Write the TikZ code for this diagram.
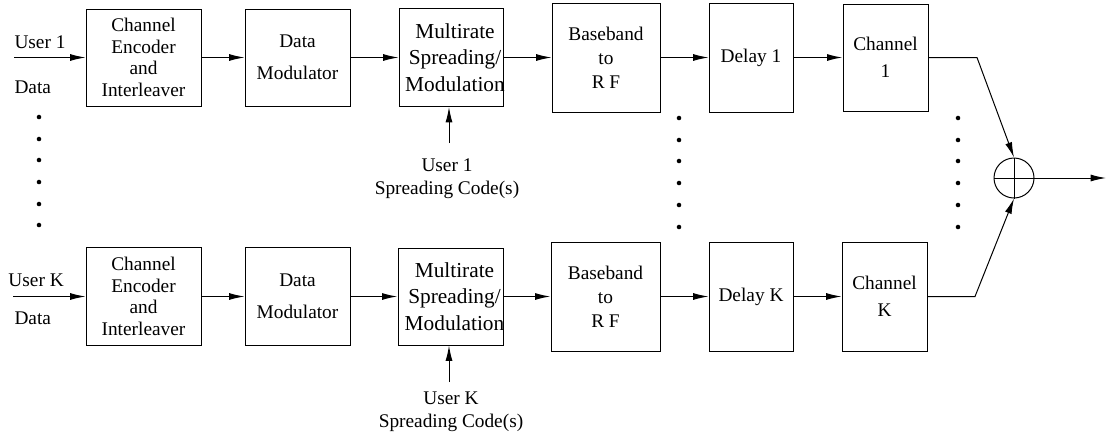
\documentclass[tikz,border=0pt]{standalone}
\usepackage{fontspec}
\setmainfont{Liberation Serif}
\usetikzlibrary{arrows.meta}
\newlength\px
\setlength\px{0.75pt}

\begin{document}
\begin{tikzpicture}[x=0.75pt,y=-0.75pt,
  line width=0.75pt,
  >={Latex[length=11.5pt,width=5.2pt]},
  lines/.style={font=\fontsize{14.5}{#1}\selectfont},
  blk/.style 2 args={draw, minimum width=#1*\px, minimum height=#2*\px,
    inner sep=0pt, align=center, lines=17},
  sprtext/.style={inner sep=0pt, align=center, font=\fontsize{16}{20}\selectfont},
  lbl/.style={inner sep=0pt, lines=17}]
\useasboundingbox (0,0) rectangle (1107,433);

% ---- user 1 chain ----
\node[blk={115}{97}, lines=16.3] (enc1) at (143.5,57.5) {Channel\\Encoder\\and\\Interleaver};
\node[blk={105}{97}, lines=24] (mod1) at (297.5,57.5) {Data\\Modulator};
\node[blk={104}{98}] (spr1) at (451,57.5) {};
\node[sprtext] (spr1t) at (455,57.5) {Multirate\\Spreading/\\Modulation};
\node[blk={108}{109}, lines=18] (bb1) at (606,57.5) {Baseband\\to\\R F};
\node[blk={84}{109}] (del1) at (751,57.5) {Delay 1};
\node[blk={85}{107}, lines=20] (ch1) at (885.5,57.5) {Channel\\1};

\node[lbl, anchor=west] (u1) at (14,42) {User 1};
\node[lbl, anchor=west] (d1) at (14,87) {Data};
\coordinate (in1) at (14,57.5);
\draw[->] (in1) -- (enc1.west);
\draw[->] (enc1) -- (mod1);
\draw[->] (mod1) -- (spr1);
\draw[->] (spr1) -- (bb1);
\draw[->] (bb1) -- (del1);
\draw[->, line width=1pt] (del1) -- (ch1);

\coordinate (sc1) at (449,143);
\draw[->] (sc1) -- (sc1 |- spr1.south);
\node[lbl, anchor=north, align=center, lines=17.3] (scl1) at (447,158) {User 1\\Spreading Code(s)};

% ---- user K chain ----
\node[blk={115}{98}, lines=16.3] (encK) at (143.5,296.5) {Channel\\Encoder\\and\\Interleaver};
\node[blk={105}{98}, lines=24] (modK) at (297.5,296.5) {Data\\Modulator};
\node[blk={105}{97}] (sprK) at (450.5,296.5) {};
\node[sprtext] (sprKt) at (454.5,296.5) {Multirate\\Spreading/\\Modulation};
\node[blk={109}{109}, lines=18] (bbK) at (605.5,296.5) {Baseband\\to\\R F};
\node[blk={84}{109}] (delK) at (751,296.5) {Delay K};
\node[blk={85}{109}, lines=20] (chK) at (884.5,296.5) {Channel\\K};

\node[lbl, anchor=west] (uK) at (8,280) {User K};
\node[lbl, anchor=west] (dK) at (14,318) {Data};
\coordinate (inK) at (13,296.5);
\draw[->] (inK) -- (encK.west);
\draw[->] (encK) -- (modK);
\draw[->, line width=1pt] (modK) -- (sprK);
\draw[->, line width=1pt] (sprK) -- (bbK);
\draw[->] (bbK) -- (delK);
\draw[->] (delK) -- (chK);

\coordinate (scK) at (449,382);
\draw[->] (scK) -- (scK |- sprK.south);
\node[lbl, anchor=north, align=center, lines=17.3] (sclK) at (451,391) {User K\\Spreading Code(s)};

% ---- summation ----
\node[circle, draw, minimum size=40*\px, inner sep=0pt] (sum) at (1014,178) {};
\draw (sum.north) -- (sum.south) (sum.west) -- (sum.east);
\coordinate (k1) at (977,57.5);
\coordinate (kK) at (975,296.5);
\draw[->] (ch1.east) -- (k1) -- (sum.north);
\draw[->] (chK.east) -- (kK) -- (sum.south);
\coordinate (out) at (1106,178);
\draw[->] (sum.east) -- (out);

% ---- ellipsis dots ----
\foreach \y in {117,139,160,182,204,225} \fill (39,\y) circle[radius=1.7pt];
\foreach \y in {118,140,161,183,205,227} {
  \fill (679,\y) circle[radius=1.7pt];
  \fill (958,\y) circle[radius=1.7pt];
}
\end{tikzpicture}
\end{document}
